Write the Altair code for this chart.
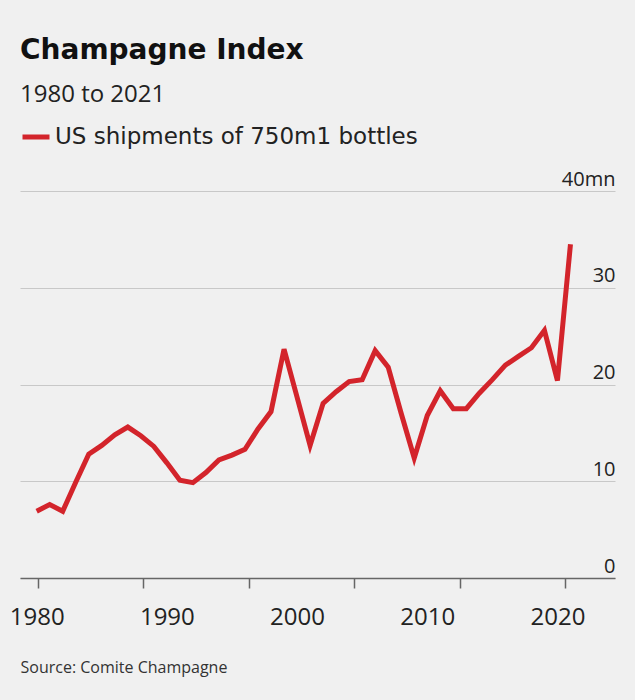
import altair as alt
import pandas as pd

years = list(range(1980, 2022))
shipments = [6.9, 7.6, 6.9, 9.9, 12.8, 13.7, 14.8, 15.6, 14.7, 13.6,
             11.9, 10.1, 9.85, 10.9, 12.2, 12.7, 13.3, 15.4, 17.2, 23.65,
             18.7, 13.7, 18.05, 19.25, 20.3, 20.5, 23.5, 21.8, 17.0, 12.4,
             16.8, 19.35, 17.5, 17.5, 19.1, 20.5, 22.0, 22.9, 23.8, 25.6,
             20.4, 34.5]
series_name = "US shipments of 750m1 bottles"
label_years = [1980, 1990, 2000, 2010, 2020]
tick_years = [1980.1, 1988.2, 1996.3, 2004.4, 2012.5, 2020.6]
y_ticks = [0, 10, 20, 30, 40]

df = pd.DataFrame({"year": years, "value": shipments, "series": series_name})

FONT = "Open Sans"
WIDE_FONT = "DejaVu Sans"
label_list = "[" + ",".join(str(y) for y in label_years) + "]"
axis_values = sorted(label_years + tick_years)

x_axis = alt.Axis(
    values=axis_values,
    format="d",
    labelExpr=f"indexof({label_list}, datum.value) >= 0 ? datum.label : ''",
    tickOpacity={"condition": {"test": f"indexof({label_list}, datum.value) < 0", "value": 1}, "value": 0},
    labelOverlap=False,
    grid=False,
    domainColor="#666666",
    domainWidth=1.5,
    tickColor="#666666",
    tickWidth=1.5,
    tickSize=10,
    labelFontSize=24,
    labelFont=FONT,
    labelColor="#222222",
    labelPadding=17,
    title="Source: Comite Champagne",
    titleFont=FONT,
    titleFontSize=16,
    titleFontWeight="normal",
    titleColor="#333333",
    titleAnchor="start",
    titleAlign="left",
    titlePadding=30,
)

y_axis = alt.Axis(
    orient="right",
    values=y_ticks,
    labelExpr="datum.value == 40 ? datum.label + 'mn' : datum.label",
    grid=True,
    gridColor="#c8c8c8",
    gridWidth=1,
    domain=False,
    ticks=False,
    labelAlign="right",
    labelBaseline="alphabetic",
    labelOffset=-6,
    labelPadding=0,
    labelFontSize=20,
    labelFont=FONT,
    labelColor="#222222",
    title=None,
)

chart = (
    alt.Chart(df)
    .mark_line(strokeWidth=5, color="#d3242b")
    .encode(
        x=alt.X("year:Q", scale=alt.Scale(domain=[1978.72, 2024.42], nice=False, zero=False), axis=x_axis),
        y=alt.Y("value:Q", scale=alt.Scale(domain=[0, 40], nice=False), axis=y_axis),
        color=alt.Color(
            "series:N",
            scale=alt.Scale(range=["#d3242b"]),
            legend=alt.Legend(
                title=None,
                orient="none",
                legendX=0,
                legendY=-70,
                symbolType="stroke",
                symbolSize=729,
                symbolStrokeWidth=5,
                labelFontSize=23,
                labelFont=WIDE_FONT,
                labelColor="#222222",
                labelOffset=3,
                labelLimit=0,
            ),
        ),
    )
    .properties(
        width=595,
        height=387,
        autosize=alt.AutoSizeParams(type="none"),
        padding={"left": 20, "top": 191, "right": 20, "bottom": 122},
        background="#f0f0f0",
        title=alt.TitleParams(
            text="Champagne Index",
            subtitle="1980 to 2021",
            anchor="start",
            frame="group",
            font=WIDE_FONT,
            fontSize=28,
            fontWeight="bold",
            color="#111111",
            subtitleFont=FONT,
            subtitleFontSize=24,
            subtitleColor="#222222",
            subtitlePadding=18,
            offset=14,
        ),
    )
    .configure_view(stroke=None)
)

chart.save("out.html", embed_options={"renderer": "svg", "actions": False})
